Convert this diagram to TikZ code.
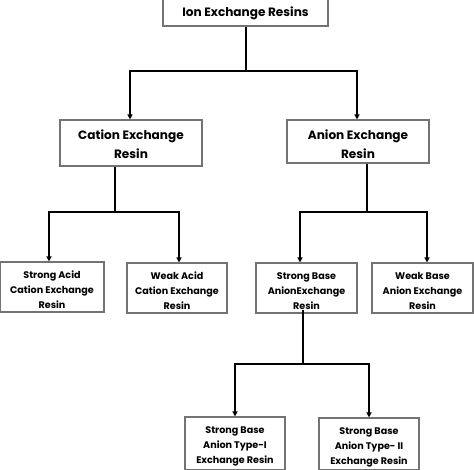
\documentclass[tikz,border=0pt]{standalone}
\usepackage{fontspec}
\setmainfont{Poppins}
\usetikzlibrary{arrows.meta,calc}
\begin{document}
\begin{tikzpicture}[x=1pt,y=-1pt,
  box/.style={draw=black!55,line width=1.1pt,rectangle,inner sep=0pt},
  big/.style={align=center,inner sep=0pt,font=\fontsize{12.1}{19}\selectfont\bfseries},
  small/.style={align=center,inner sep=0pt,font=\fontsize{9.6}{15}\selectfont\bfseries},
  conn/.style={line width=1.5pt,black},
  arr/.style={conn,-{Triangle[length=5pt,width=5pt]}}]
\useasboundingbox[fill=white] (0,0) rectangle (474,470);
\node[box,minimum width=165pt,minimum height=31pt] (top) at (245.5,10.5) {};
\node[big] (topT) at (245.5,13.5) {Ion Exchange Resins};
\node[box,minimum width=142pt,minimum height=46pt] (cat) at (131,143) {};
\node[big] (catT) at (131,144) {Cation Exchange\\Resin};
\node[box,minimum width=142pt,minimum height=43pt] (an) at (358,141.5) {};
\node[big] (anT) at (358,144) {Anion Exchange\\Resin};
\node[box,minimum width=104pt,minimum height=50pt] (sac) at (52,287) {};
\node[small] (sacT) at (52,290) {Strong Acid\\Cation Exchange\\Resin};
\node[box,minimum width=100pt,minimum height=50pt] (wac) at (177,288) {};
\node[small] (wacT) at (177,291) {Weak Acid\\Cation Exchange\\Resin};
\node[box,minimum width=101pt,minimum height=50pt] (sba) at (306.5,288) {};
\node[small] (sbaT) at (306.5,291) {Strong Base\\AnionExchange\\Resin};
\node[box,minimum width=101pt,minimum height=50pt] (wba) at (422.5,288) {};
\node[small] (wbaT) at (422.5,291) {Weak Base\\Anion Exchange\\Resin};
\node[box,minimum width=100pt,minimum height=53pt] (t1) at (235,443.5) {};
\node[small] (t1T) at (235,446) {Strong Base\\Anion Type-I\\Exchange Resin};
\node[box,minimum width=100pt,minimum height=52pt] (t2) at (369,444) {};
\node[small] (t2T) at (369,447) {Strong Base\\Anion Type- II\\Exchange Resin};
% connectors
\coordinate (j1) at (246,71);
\draw[conn] (j1 |- top.south) -- (j1);
\draw[arr] (j1) -| ([xshift=-1pt]cat.north);
\draw[arr] (j1) -| ([xshift=-1pt]an.north);
\coordinate (j2) at (115,212);
\draw[conn] (j2 |- cat.south) -- (j2);
\draw[arr] (j2) -| ([xshift=-3pt]sac.north);
\draw[arr] (j2) -| ([xshift=2pt]wac.north);
\coordinate (j3) at (367,212);
\draw[conn] (j3 |- an.south) -- (j3);
\draw[arr] (j3) -| ([xshift=-6.5pt]sba.north);
\draw[arr] (j3) -| ([xshift=4.5pt]wba.north);
\coordinate (j4) at (303,364);
\draw[conn] ([yshift=4pt]j4 |- sba.south) -- (j4);
\draw[arr] (j4) -| (t1.north);
\draw[arr] (j4) -| (t2.north);
\end{tikzpicture}
\end{document}
